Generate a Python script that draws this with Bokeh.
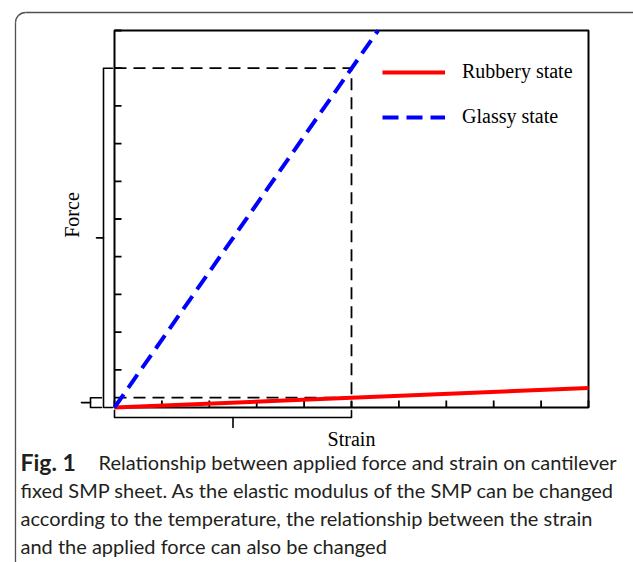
import math
from bokeh.plotting import figure
from bokeh.models import ColumnDataSource, Label, Legend, LegendItem
from bokeh.embed import file_html
from bokeh.resources import INLINE

# Tick positions on both axes (arbitrary units, no numbers shown)
strain_ticks = [0, 1, 2, 3, 4, 5, 6, 7, 8, 9, 10]
force_ticks = [0, 1, 2, 3, 4, 5, 6, 7, 8, 9, 10]
strain_max = 10
force_max = 10

# Force-strain relations of the SMP sheet
rubbery_strain = [0, 10]
rubbery_force = [0, 0.52]
glassy_strain = [0, 5.56]
glassy_force = [0, 10.0]

# One reference strain and the force each state needs to reach it
ref_strain = 5
glassy_ref_force = 9
rubbery_ref_force = 0.26

caption_bold = "Fig. 1"
caption_lines = [
    "Relationship between applied force and strain on cantilever",
    "fixed SMP sheet. As the elastic modulus of the SMP can be changed",
    "according to the temperature, the relationship between the strain",
    "and the applied force can also be changed",
]

W, H = 633, 562
BOX_L, BOX_R, BOX_T, BOX_B = 114, 588, 30, 407     # pixel edges of the plotting box
XPX = (BOX_R - BOX_L) / strain_max                   # pixels per strain unit
YPX = (BOX_B - BOX_T) / force_max                    # pixels per force unit


def dx(px):
    """horizontal pixel offset -> strain units"""
    return px / XPX


def dy(px):
    """vertical pixel offset -> force units"""
    return px / YPX


SERIF = "Liberation Serif"
SANS = "Lato"

p = figure(width=W, height=H,
           x_range=(-dx(BOX_L), dx(W - BOX_L)),
           y_range=(-dy(H - BOX_B), dy(BOX_B)),
           x_axis_location=None, y_axis_location=None,
           output_backend="svg", toolbar_location=None, min_border=0,
           background_fill_color="white", border_fill_color="white")
p.grid.visible = False
p.outline_line_color = None

# Plot box
p.quad(left=[0], right=[strain_max], bottom=[0], top=[force_max],
       fill_color=None, line_color="black", line_width=2)

# Inward ticks
tick_len = 7
xt = ColumnDataSource(dict(x=strain_ticks, y0=[0] * len(strain_ticks),
                           y1=[dy(tick_len)] * len(strain_ticks)))
p.segment(x0="x", y0="y0", x1="x", y1="y1", source=xt, line_color="black", line_width=1.8)
yt = ColumnDataSource(dict(y=force_ticks, x0=[0] * len(force_ticks),
                           x1=[dx(tick_len)] * len(force_ticks)))
p.segment(x0="x0", y0="y", x1="x1", y1="y", source=yt, line_color="black", line_width=1.8)

# Dashed guides from the reference strain to both force levels
p.line([0, ref_strain, ref_strain], [glassy_ref_force, glassy_ref_force, 0],
       line_color="black", line_width=1.8, line_dash="12 7")
p.line([0, ref_strain], [rubbery_ref_force, rubbery_ref_force],
       line_color="black", line_width=1.8, line_dash="12 7")

r_rub = p.line(rubbery_strain, rubbery_force, line_color="#ff0000", line_width=4)
r_gla = p.line(glassy_strain, glassy_force, line_color="#0000ff", line_width=4,
               line_dash="16 8")

legend = Legend(items=[LegendItem(label="Rubbery state", renderers=[r_rub]),
                       LegendItem(label="Glassy state", renderers=[r_gla])],
                location=(382, 434), orientation="vertical",
                border_line_color=None, background_fill_alpha=0,
                padding=0, margin=0, spacing=22, glyph_width=63, glyph_height=20,
                label_height=20, label_standoff=17,
                label_text_font=SERIF, label_text_font_size="20px",
                label_text_color="black")
p.add_layout(legend)

# Braces marking the glassy and rubbery force ranges and the strain range
bx, hook, mid = -dx(11), -dx(2), -dx(18)
sbx, shook, smid = -dx(24), -dx(13), -dx(33)
by, vhook, vmid = -dy(10), -dy(3), -dy(20)
brace_xs = [
    [hook, bx, bx, hook], [bx, mid],
    [shook, sbx, sbx, shook], [sbx, smid],
    [0, 0, ref_strain, ref_strain], [ref_strain / 2, ref_strain / 2],
]
brace_ys = [
    [glassy_ref_force, glassy_ref_force, 0, 0], [glassy_ref_force / 2, glassy_ref_force / 2],
    [rubbery_ref_force, rubbery_ref_force, 0, 0], [rubbery_ref_force / 2, rubbery_ref_force / 2],
    [vhook, by, by, vhook], [by, vmid],
]
p.multi_line(brace_xs, brace_ys, line_color="black", line_width=1.6,
             line_join="round", line_cap="round")

# Axis titles
p.add_layout(Label(x=(BOX_L + BOX_R) / 2, y=H - 438, x_units="screen", y_units="screen",
                   text="Strain", text_font=SERIF, text_font_size="20px",
                   text_color="black", text_align="center", text_baseline="alphabetic"))
p.add_layout(Label(x=71, y=H - (BOX_T + BOX_B) / 2 + 4, x_units="screen", y_units="screen",
                   text="Force", angle=math.pi / 2, text_font=SERIF, text_font_size="20px",
                   text_color="black", text_align="center", text_baseline="alphabetic"))

# Rounded panel border (top-left corner visible)
frame_l, frame_t, rad = 15, 12, 10
cx, cy = -dx(BOX_L - frame_l - rad), dy(BOX_B - frame_t - rad)
p.arc(x=[cx], y=[cy], radius=rad, radius_units="screen",
      start_angle=math.pi / 2, end_angle=math.pi, line_color="#505050", line_width=1.3)
p.line([cx, dx(W - BOX_L + 20)], [dy(BOX_B - frame_t)] * 2, line_color="#505050", line_width=1.3)
p.line([-dx(BOX_L - frame_l)] * 2, [cy, -dy(H - BOX_B + 20)], line_color="#505050", line_width=1.3)

# Caption
base_y = [461, 489, 517, 545]
p.add_layout(Label(x=20, y=H - base_y[0], x_units="screen", y_units="screen",
                   text=caption_bold, text_font=SANS, text_font_style="bold",
                   text_font_size="23px", text_color="#231f20",
                   text_baseline="alphabetic"))
for i, line in enumerate(caption_lines):
    x0 = 98 if i == 0 else 20
    p.add_layout(Label(x=x0, y=H - base_y[i], x_units="screen", y_units="screen",
                       text=line, text_font=SANS, text_font_size="20px",
                       text_color="#231f20", text_baseline="alphabetic"))

open("out.html", "w").write(file_html(p, INLINE))
